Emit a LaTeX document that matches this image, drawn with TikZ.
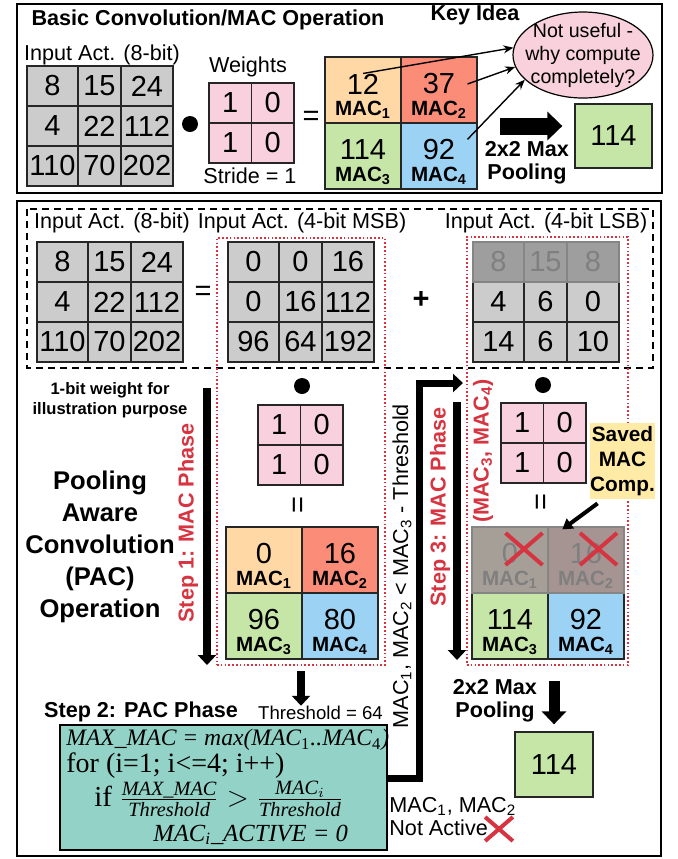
\documentclass[tikz,border=0pt]{standalone}
\usepackage{amsmath}
\usepackage{fontspec}
\setmainfont{Liberation Sans}
\newfontfamily\codefont{Liberation Serif}
\usetikzlibrary{arrows.meta, positioning, fit, shapes.geometric}

\definecolor{actgray}{RGB}{204,204,204}
\definecolor{wpink}{RGB}{249,208,221}
\definecolor{macorange}{RGB}{255,216,166}
\definecolor{macred}{RGB}{251,140,120}
\definecolor{macgreen}{RGB}{197,230,166}
\definecolor{macblue}{RGB}{156,210,244}
\definecolor{ideapink}{RGB}{248,209,220}
\definecolor{codeteal}{RGB}{147,211,199}
\definecolor{savedyellow}{RGB}{255,235,166}
\definecolor{stepred}{RGB}{214,52,64}
\definecolor{offgray}{RGB}{150,150,150}

\newcommand{\mainfs}{\fontsize{10.8}{11.5}\selectfont}
\newcommand{\numfs}{\fontsize{14.5}{16}\selectfont}
\newcommand{\macfs}{\fontsize{10.3}{11}\selectfont\bfseries}
\newcommand{\pacfs}{\fontsize{12.8}{16}\selectfont\bfseries}
\newcommand{\notefs}{\fontsize{8.3}{10}\selectfont\bfseries}
\newcommand{\ideafs}{\fontsize{9.8}{11.5}\selectfont}
\newcommand{\thrfs}{\fontsize{9.3}{11}\selectfont}
\newcommand{\codefs}{\codefont\fontsize{11.8}{13}\selectfont}

\tikzset{
  cellbase/.style={rectangle, draw=black!85, line width=0.65pt, inner sep=0pt, font=\numfs},
  actcell/.style={cellbase, fill=actgray, minimum height=20pt},
  wcell/.style={cellbase, fill=wpink, minimum width=21.25pt, minimum height=20pt},
  maccell/.style={cellbase, minimum width=38pt, minimum height=33pt},
  macnum/.style={inner sep=0pt, font=\numfs},
  maclbl/.style={inner sep=0pt, font=\macfs},
  rowoff/.style={fill=offgray, opacity=0.85, inner sep=0pt},
  poolbox/.style={cellbase, fill=macgreen},
  lbl/.style={inner sep=0pt, font=\mainfs},
  boldlbl/.style={inner sep=0pt, font=\mainfs\bfseries, align=center},
  steplbl/.style={inner sep=0pt, font=\mainfs\bfseries, text=stepred, rotate=90},
  dotsym/.style={circle, fill=black, minimum size=8pt, inner sep=0pt},
  frame/.style={draw=black, line width=1.3pt},
  dashframe/.style={draw=black, line width=1pt, dash pattern=on 3.5pt off 2.5pt},
  redbox/.style={rectangle, draw=stepred, line width=0.9pt, dash pattern=on 0.8pt off 1.1pt, inner sep=0pt},
  ideabubble/.style={ellipse, draw=black, line width=0.6pt, fill=ideapink, minimum width=70pt, minimum height=43pt, inner sep=0pt},
  ideatext/.style={inner sep=0pt, align=center, font=\ideafs},
  savedbox/.style={rectangle, fill=savedyellow, minimum width=32.5pt, minimum height=38pt, inner sep=0pt, align=center, font=\fontsize{10.4}{12.5}\selectfont\bfseries},
  codebox/.style={rectangle, draw=black, line width=1pt, fill=codeteal, minimum width=163.5pt, minimum height=62.5pt, inner sep=0pt},
  codeline/.style={inner sep=0pt, anchor=west, font=\codefs},
  thinarrow/.style={-{Stealth[length=5pt,width=4pt]}, line width=0.7pt},
  steparrow/.style={-{Triangle[length=5pt,width=9pt]}, line width=4pt},
  lpath/.style={-{Triangle[length=5pt,width=9pt]}, line width=3.5pt},
  blockarrow/.style={-{Triangle[length=7.5pt,width=14pt]}, line width=8.5pt},
  poolarrow/.style={-{Triangle[length=6.5pt,width=12pt]}, line width=5.5pt},
  savedarrow/.style={-{Triangle[length=5pt,width=6pt]}, line width=2pt},
  crossline/.style={draw=stepred, line width=2pt},
  redx/.pic={\draw[crossline] (-9.25pt,-8pt) -- (9.25pt,8pt) (-9.25pt,8pt) -- (9.25pt,-8pt);}
}

% 3x3 activation grid: name, left x, top y, rows
\newcommand{\actgrid}[4]{%
  \foreach \va/\vb/\vc [count=\row] in {#4} {
    \node[actcell, minimum width=25.5pt] (#1-\row-1) at ({#2+25.5},{#3+40*\row-20}) {\va};
    \node[actcell, minimum width=21.5pt] (#1-\row-2) at ({#2+72.5},{#3+40*\row-20}) {\vb};
    \node[actcell, minimum width=26pt]   (#1-\row-3) at ({#2+120},{#3+40*\row-20}) {\vc};
  }
}
% 2x2 weight grid
\newcommand{\wgrid}[3]{%
  \foreach \va/\vb [count=\row] in {1/0,1/0} {
    \node[wcell] (#1-\row-1) at ({#2+21.25},{#3+40*\row-20}) {\va};
    \node[wcell] (#1-\row-2) at ({#2+63.75},{#3+40*\row-20}) {\vb};
  }
}
% 2x2 MAC grid: name, left x, top y, four values
\newcommand{\macgrid}[7]{%
  \foreach \idx/\val/\dx/\dy/\col in {1/#4/38/33/macorange,2/#5/114/33/macred,3/#6/38/99/macgreen,4/#7/114/99/macblue} {
    \node[maccell, fill=\col] (#1-\idx) at ({#2+\dx},{#3+\dy}) {};
    \node[macnum] (#1-n\idx) at ([yshift=3pt]#1-\idx.center) {\val};
    \node[maclbl] (#1-l\idx) at ([yshift=-10pt]#1-\idx.center) {MAC\textsubscript{\idx}};
  }
}

\begin{document}
\begin{tikzpicture}[x=0.5pt, y=-0.5pt]
  \useasboundingbox (0,0) rectangle (677,859);

  % basic convolution panel
  \draw[frame] (17,4) rectangle (662,193);
  \node[boldlbl] (title) at (208,20) {Basic Convolution/MAC Operation};
  \node[boldlbl] (keyidea) at (475,15) {Key Idea};
  \node[lbl] (intop) at (102,55) {Input Act. (8-bit)};
  \actgrid{topact}{27}{66}{8/15/24,4/22/112,110/70/202}
  \node[dotsym] (dot1) at (190,124) {};
  \node[lbl] (wlbl) at (248,67) {Weights};
  \wgrid{topw}{209}{83}
  \node[lbl] (stride) at (250,176) {Stride = 1};
  \node[lbl, font=\numfs] (eq1) at (311,118) {=};
  \macgrid{topmac}{325}{57}{12}{37}{114}{92}

  \node[ideabubble] (idea) at (583,55) {};
  \node[ideatext] (ideatxt) at (idea) {Not useful -\\why compute\\completely?};
  \draw[thinarrow] (topmac-n1.north) -- (idea.174);
  \draw[thinarrow] ([xshift=6pt]topmac-n2.east) -- (idea.190);
  \draw[thinarrow] ([xshift=6pt]topmac-n4.north east) -- (idea.203);

  \node[poolbox, minimum width=38.5pt, minimum height=32pt] (topres) at (613.5,136) {114};
  \coordinate (poolstart) at (500,126);
  \draw[blockarrow, shorten >=6pt] (poolstart) -- (poolstart -| topres.west);
  \node[boldlbl] (pool1) at (527,163) {2x2 Max\\Pooling};

  % PAC panel
  \draw[frame] (17,201) rectangle (661,856);
  \draw[dashframe] (27,209) rectangle (653,368);
  \node[lbl] (in8) at (112,223) {Input Act. (8-bit)};
  \node[lbl] (inmsb) at (302,223) {Input Act. (4-bit MSB)};
  \node[lbl] (inlsb) at (546,223) {Input Act. (4-bit LSB)};
  \actgrid{act8}{37}{242}{8/15/24,4/22/112,110/70/202}
  \node[lbl, font=\numfs] (eq2) at (203,293) {=};
  \actgrid{msb}{228}{242}{0/0/16,0/16/112,96/64/192}
  \node[lbl, font=\numfs\bfseries] (plus) at (421,300) {+};
  \actgrid{lsb}{473}{242}{8/15/8,4/6/0,14/6/10}
  \node[rowoff, fit=(lsb-1-1)(lsb-1-3)] (lsboff) {};

  \node[redbox, minimum width=84pt, minimum height=213.5pt] (msbbox) at (301,451.5) {};
  \node[redbox, minimum width=80.5pt, minimum height=214pt] (lsbbox) at (547.5,451) {};

  % step 1
  \node[boldlbl, font=\notefs] (note) at (110,400) {1-bit weight for\\illustration purpose};
  \coordinate (s1top) at (207,388);
  \coordinate (s1bot) at (207,665);
  \draw[steparrow] (s1top) -- (s1bot);
  \node[steplbl] (step1) at (188,523) {Step 1: MAC Phase};
  \node[boldlbl, font=\pacfs] (pac) at (100,547) {Pooling\\Aware\\Convolution\\(PAC)\\Operation};
  \node[dotsym] (dot2) at (302,386) {};
  \wgrid{msbw}{258}{405}
  \node[lbl, font=\numfs, rotate=90] (eq3) at (300,505) {=};
  \macgrid{msbmac}{226}{527}{0}{16}{96}{80}

  % step 2
  \node[boldlbl] (step2) at (141,712) {Step 2: PAC Phase};
  \node[lbl, font=\thrfs] (thr) at (320.5,713) {Threshold = 64};
  \draw[steparrow] ([yshift=-2.5pt]msbbox.south) -- (msbbox.south |- thr.north);
  \node[codebox] (code) at (223.5,787.5) {};
  \node[codeline] (c1) at (66,740) {\itshape MAX\_MAC = max(MAC\textsubscript{\upshape 1}..MAC\textsubscript{\upshape 4})};
  \node[codeline, font=\codefont\fontsize{14}{16}\selectfont] (c2) at (66,766) {for (i=1; i<=4; i++)};
  \node[codeline, font=\codefont\fontsize{14.5}{16}\selectfont] (c3) at (94,799)
       {if $\frac{\textit{MAX\_MAC}}{\textit{Threshold}} > \frac{\textit{MAC}_i}{\textit{Threshold}}$};
  \node[codeline, font=\codefont\fontsize{12.3}{14}\selectfont] (c4) at (153,835) {\itshape MAC\textsubscript{i}\_ACTIVE = 0};

  % step 3
  \node[lbl, rotate=90] (cond) at (402,566) {MAC\textsubscript{1}, MAC\textsubscript{2} < MAC\textsubscript{3} - Threshold};
  \coordinate (lsbin) at (463,383);
  \draw[lpath] ([yshift=4.75pt]code.east) -- ++(31,0) |- (lsbin);
  \coordinate (s3top) at (457,402);
  \coordinate (s3bot) at (457,660);
  \draw[steparrow] (s3top) -- (s3bot);
  \node[steplbl] (step3) at (440,507) {Step 3: MAC Phase};
  \node[steplbl] (step3b) at (483,451) {(MAC\textsubscript{3}, MAC\textsubscript{4})};
  \node[dotsym] (dot3) at (543,385) {};
  \wgrid{lsbw}{501}{403}
  \node[lbl, font=\numfs, rotate=90] (eq4) at (543,502) {=};
  \macgrid{lsbmac}{472}{527}{0}{16}{114}{92}
  \node[rowoff, fit=(lsbmac-1)(lsbmac-2)] (macoff) {};
  \pic at ([shift={(7pt,5.5pt)}]lsbmac-1.center) {redx};
  \pic at ([shift={(6.25pt,5.5pt)}]lsbmac-2.center) {redx};
  \node[savedbox] (saved) at (622.5,461) {Saved\\MAC\\Comp.};
  \draw[savedarrow] ([shift={(4pt,-2pt)}]saved.south west) -- ([shift={(7.5pt,-1.5pt)}]lsbmac-2.north west);

  \node[boldlbl] (pool2) at (495,700.5) {2x2 Max\\Pooling};
  \node[poolbox, minimum width=39pt, minimum height=32.5pt] (botres) at (554,764.5) {114};
  \draw[poolarrow, shorten >=3.5pt] (botres.north) ++(0,-50) -- (botres.north);
  \node[lbl, anchor=west, align=left] (notact) at (389,816.5) {MAC\textsubscript{1}, MAC\textsubscript{2}\\Not Active};
  \pic[scale=0.75] at (499,829) {redx};
\end{tikzpicture}
\end{document}
